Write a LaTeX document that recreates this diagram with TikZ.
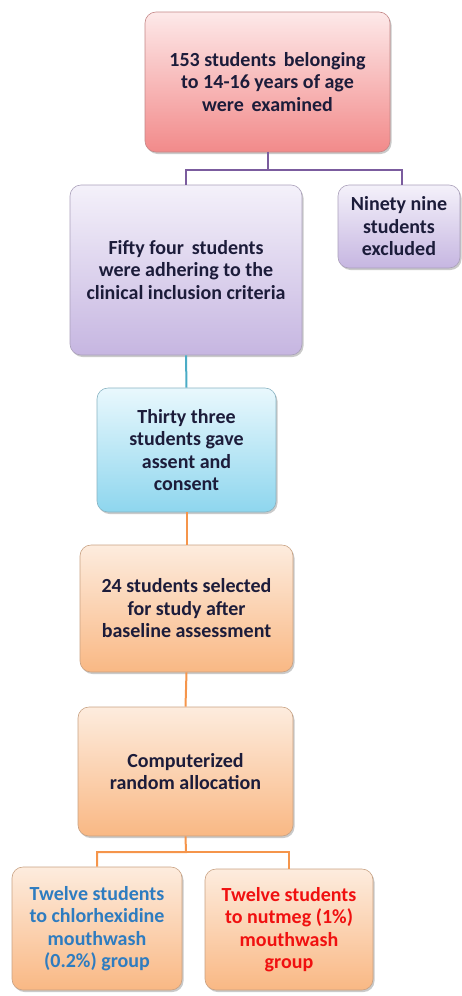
\documentclass[tikz,border=0pt]{standalone}
\usepackage{fontspec}
\setmainfont{Carlito}
\usetikzlibrary{shadows}
\definecolor{txt}{HTML}{1C1C3A}
\definecolor{bluetxt}{HTML}{2E7CC0}
\definecolor{redtxt}{HTML}{F01010}
\definecolor{purpline}{HTML}{7B5C9E}
\definecolor{cyanline}{HTML}{4BACC6}
\definecolor{orline}{HTML}{F5954B}
\definecolor{pinktop}{HTML}{FDE9E9}
\definecolor{pinkbot}{HTML}{F28A8A}
\definecolor{lavtop}{HTML}{F4F1FA}
\definecolor{lavbot}{HTML}{C6B6E1}
\definecolor{cyantop}{HTML}{E9F8FD}
\definecolor{cyanbot}{HTML}{8ED6EE}
\definecolor{ortop}{HTML}{FDECDE}
\definecolor{orbot}{HTML}{F9B884}
\tikzset{
  box/.style={rounded corners=11pt, align=center, text=txt,
    font=\fontsize{20}{22.5}\selectfont\bfseries, inner sep=2pt,
    drop shadow={shadow xshift=1.5pt, shadow yshift=-2pt, opacity=0.35, fill=black!60},
    line width=0.6pt},
  pinkbox/.style={box, draw=pinkbot!60!gray, top color=pinktop, bottom color=pinkbot},
  lavbox/.style={box, draw=lavbot!60!gray, top color=lavtop, bottom color=lavbot},
  cyanbox/.style={box, draw=cyanbot!60!gray, top color=cyantop, bottom color=cyanbot},
  orbox/.style={box, draw=orbot!60!gray, top color=ortop, bottom color=orbot},
  link/.style={line width=2pt},
}
\begin{document}
\begin{tikzpicture}[x=1pt,y=1pt]
\useasboundingbox (0,0) rectangle (461,-996);
\node[pinkbox, minimum width=245pt, minimum height=140pt] (b1) at (267.5,-82) {153 students\, belonging\\to 14-16 years of age\\were\, examined};
\node[lavbox, minimum width=232pt, minimum height=170pt] (b2) at (186,-270) {Fifty four\, students\\were adhering to the\\clinical inclusion criteria};
\node[lavbox, minimum width=122pt, minimum height=83pt] (b3) at (399,-226.5) {Ninety nine\\students\\excluded};
\node[cyanbox, minimum width=179pt, minimum height=124pt] (b4) at (186.5,-450) {Thirty three\\students gave\\assent and\\consent};
\node[orbox, minimum width=213pt, minimum height=127pt] (b5) at (186.5,-608.5) {24 students selected\\for study after\\baseline assessment};
\node[orbox, minimum width=215pt, minimum height=129pt] (b6) at (185.5,-771.5) {Computerized\\random allocation};
\node[orbox, minimum width=170pt, minimum height=123pt, text=bluetxt] (b7) at (97,-928.5) {Twelve students\\to chlorhexidine\\mouthwash\\(0.2\%) group};
\node[orbox, minimum width=168pt, minimum height=121pt, text=redtxt] (b8) at (289,-929.5) {Twelve students\\to nutmeg (1\%)\\mouthwash\\group};
\coordinate (j1) at (267.5,-170);
\coordinate (j2) at (186,-852);
\begin{scope}[on background layer/.try]
\draw[link, purpline] (b1.south) -- (j1) -| (b2.north);
\draw[link, purpline] (j1) -| ([xshift=3pt]b3.north);
\draw[link, cyanline] (b2.south) -- (b4.north);
\draw[link, orline] (b4.south) -- (b5.north);
\draw[link, orline] (b5.south) -- (b6.north);
\draw[link, orline] (b6.south) -- (j2) -| (b7.north);
\draw[link, orline] (j2) -| (b8.north);
\end{scope}
\end{tikzpicture}
\end{document}
